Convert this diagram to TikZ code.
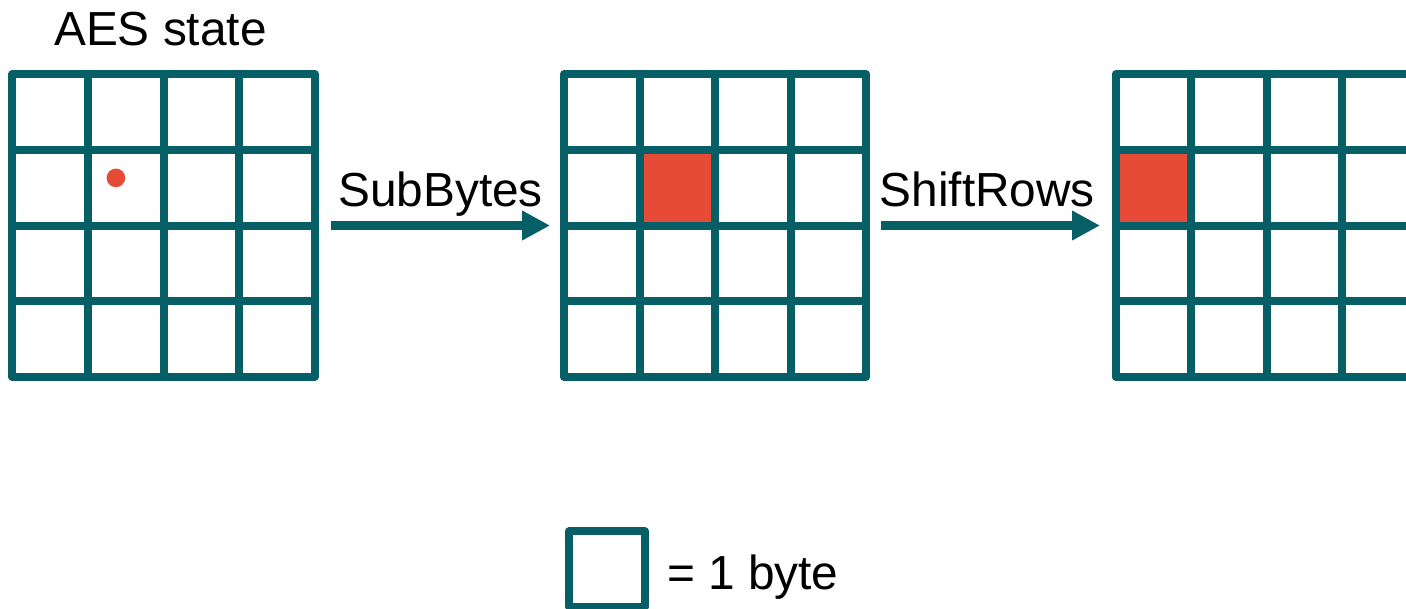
\documentclass[tikz,border=0pt]{standalone}
\usepackage{fontspec}
\setmainfont{Liberation Sans}
\usetikzlibrary{arrows.meta}

\definecolor{teal}{RGB}{6,94,102}
\definecolor{hot}{RGB}{229,75,54}

\begin{document}
\begin{tikzpicture}[x=1pt,y=-1pt,
  gridline/.style={draw=teal,line width=8pt,line join=round,line cap=rect},
  hotcell/.style={fill=hot},
  label/.style={inner sep=0pt,anchor=base west,font=\fontsize{47.8}{57}\selectfont},
  flow/.style={draw=teal,line width=9pt,-{Triangle[length=28pt,width=28pt]}},
  bytebox/.style={draw=teal,line width=8pt,minimum size=75.5pt,inner sep=0pt,line join=round}
]
\clip (0,0) rectangle (1406,608);
\useasboundingbox (0,0) rectangle (1406,608);
\fill[white] (0,0) rectangle (1406,608);

\def\cs{75.6}
\def\gy{74.3}

% highlighted bytes (drawn below the grid lines)
\fill[hotcell] (563.9+\cs,\gy+\cs) rectangle (563.9+2*\cs,\gy+2*\cs);
\fill[hotcell] (1115.5,\gy+\cs) rectangle (1115.5+\cs,\gy+2*\cs);

% three 4x4 state grids
\foreach \gx in {12.3,563.9,1115.5}{
  \foreach \i in {1,2,3}{
    \draw[gridline,line cap=butt] (\gx+\i*\cs,\gy) -- (\gx+\i*\cs,\gy+4*\cs);
    \draw[gridline,line cap=butt] (\gx,\gy+\i*\cs) -- (\gx+4*\cs,\gy+\i*\cs);
  }
  \draw[gridline] (\gx,\gy) rectangle (\gx+4*\cs,\gy+4*\cs);
}

% marked byte in the input state
\fill[hot] (12.3+\cs+28,\gy+\cs+28) circle (9.3);

% labels
\node[label] (aes) at (54,45) {AES state};
\node[label] (sub) at (338,206) {SubBytes};
\node[label] (shift) at (879.5,206) {ShiftRows};

% transformation arrows
\coordinate (s1) at (331,225.5);
\coordinate (t1) at (550,225.5);
\coordinate (s2) at (881,225.5);
\coordinate (t2) at (1100,225.5);
\draw[flow] (s1) -- (t1);
\draw[flow] (s2) -- (t2);

% legend
\node[bytebox] (byte) at (607,569) {};
\node[label] (bytetext) at (667,589) {= 1 byte};
\end{tikzpicture}
\end{document}
